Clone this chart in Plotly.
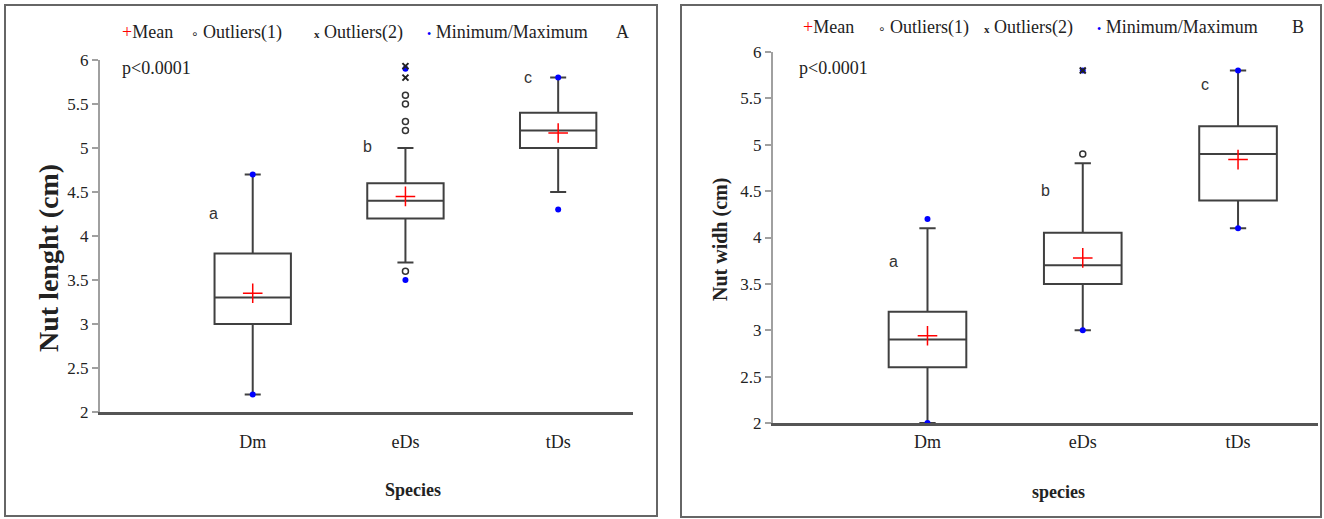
import plotly.graph_objects as go

# ---------------- data ----------------
species = ["Dm", "eDs", "tDs"]
letters_A = ["a", "b", "c"]
letters_B = ["a", "b", "c"]

# Panel A : Nut length (cm)
A_q1 = [3.0, 4.2, 5.0]
A_median = [3.3, 4.4, 5.2]
A_q3 = [3.8, 4.6, 5.4]
A_lower = [2.2, 3.7, 4.5]
A_upper = [4.7, 5.0, 5.8]
A_mean = [3.35, 4.45, 5.17]
A_min = [2.2, 3.5, 4.3]
A_max = [4.7, 5.9, 5.8]
A_out1_species = ["eDs", "eDs", "eDs", "eDs", "eDs"]
A_out1_values = [5.2, 5.3, 5.5, 5.6, 3.6]
A_out2_species = ["eDs", "eDs"]
A_out2_values = [5.8, 5.93]

# Panel B : Nut width (cm)
B_q1 = [2.6, 3.5, 4.4]
B_median = [2.9, 3.7, 4.9]
B_q3 = [3.2, 4.05, 5.2]
B_lower = [2.0, 3.0, 4.1]
B_upper = [4.1, 4.8, 5.8]
B_mean = [2.94, 3.78, 4.84]
B_min = [2.0, 3.0, 4.1]
B_max = [4.2, 5.8, 5.8]
B_out1_species = ["eDs"]
B_out1_values = [4.9]
B_out2_species = ["eDs"]
B_out2_values = [5.8]

yticks = [2, 2.5, 3, 3.5, 4, 4.5, 5, 5.5, 6]

# ---------------- helpers ----------------
W, H = 1324, 519
pos = {s: i for i, s in enumerate(species)}
xpos = [pos[s] for s in species]
SERIF = "Liberation Serif"
SANS = "Liberation Sans"
BOXCOL = "#404040"


def px(x):
    return x / W


def py(y):
    return 1 - y / H


fig = go.Figure()


def add_panel(xa, ya, q1, med, q3, lo, up, mean, mn, mx, o1s, o1v, o2s, o2v):
    fig.add_trace(go.Box(
        x=xpos, q1=q1, median=med, q3=q3, lowerfence=lo, upperfence=up,
        width=0.5, whiskerwidth=0.21, boxpoints=False,
        fillcolor="white", line=dict(color=BOXCOL, width=2),
        xaxis=xa, yaxis=ya, showlegend=False, hoverinfo="skip"))
    fig.add_trace(go.Scatter(
        x=xpos, y=mean, mode="markers", xaxis=xa, yaxis=ya, showlegend=False,
        marker=dict(symbol="cross-thin", size=14, line=dict(color="red", width=1.5)),
        cliponaxis=False))
    fig.add_trace(go.Scatter(
        x=[pos[s] for s in o1s], y=o1v, mode="markers", xaxis=xa, yaxis=ya,
        showlegend=False, cliponaxis=False,
        marker=dict(symbol="circle-open", size=6, color="#333",
                    line=dict(color="#333", width=1.5))))
    fig.add_trace(go.Scatter(
        x=xpos * 2, y=mn + mx, mode="markers", xaxis=xa, yaxis=ya,
        showlegend=False, cliponaxis=False,
        marker=dict(symbol="circle", size=6, color="#0000ff")))
    fig.add_trace(go.Scatter(
        x=[pos[s] for s in o2s], y=o2v, mode="markers", xaxis=xa, yaxis=ya,
        showlegend=False, cliponaxis=False,
        marker=dict(symbol="x-thin", size=6, line=dict(color="#222", width=2))))


add_panel("x", "y", A_q1, A_median, A_q3, A_lower, A_upper, A_mean, A_min, A_max,
          A_out1_species, A_out1_values, A_out2_species, A_out2_values)
add_panel("x2", "y2", B_q1, B_median, B_q3, B_lower, B_upper, B_mean, B_min, B_max,
          B_out1_species, B_out1_values, B_out2_species, B_out2_values)

yaxis_common = dict(
    range=[2, 6], tickvals=yticks, showgrid=False, zeroline=False, automargin=False,
    showline=True, linecolor="#a0a0a0", linewidth=2,
    ticks="outside", ticklen=6, tickwidth=1.5, tickcolor="#a0a0a0",
    tickfont=dict(family=SERIF, size=17, color="#222"))
xaxis_common = dict(
    tickvals=xpos, ticktext=species, showgrid=False, zeroline=False, automargin=False,
    showline=True, linecolor="#555", linewidth=3, ticks="",
    tickfont=dict(family=SERIF, size=18, color="#222"))

fig.update_layout(
    width=W, height=H,
    margin=dict(l=0, r=0, t=0, b=0, pad=0, autoexpand=False),
    paper_bgcolor="white", plot_bgcolor="white", showlegend=False,
    xaxis=dict(domain=[px(100), px(633)], range=[-1.0, 2.49], anchor="y",
               ticklabelstandoff=11, **xaxis_common),
    yaxis=dict(domain=[py(412), py(60)], anchor="x", **yaxis_common),
    xaxis2=dict(domain=[px(773), px(1318)], range=[-0.995, 2.515], anchor="y2",
                ticklabelstandoff=0, **xaxis_common),
    yaxis2=dict(domain=[py(423), py(52)], anchor="x2", **yaxis_common),
)

ann = []


def txt(x, y, text, size=18, family=SERIF, xanchor="left", **kw):
    ann.append(dict(x=px(x), y=py(y), xref="paper", yref="paper", text=text,
                    showarrow=False, xanchor=xanchor, yanchor="middle",
                    font=dict(family=family, size=size, color="#222"), **kw))


def legend_row(y, xs, label_end):
    x_mean, x_o1, x_o2, x_mm, x_lab = xs
    txt(x_mean, y, "<span style='color:#ff0000'>+</span>Mean")
    txt(x_o1, y, "<span style='font-family:DejaVu Sans;font-size:12px;color:#222'>∘</span> Outliers(1)")
    txt(x_o2, y, "<span style='font-size:11px;color:#222'><b>x</b></span> Outliers(2)")
    txt(x_mm, y, "<span style='color:#0000ff;font-size:12px'>•</span> Minimum/Maximum")
    txt(x_lab, y, label_end, xanchor="center")


legend_row(32, (120, 189, 312, 425, 622), "A")
legend_row(27, (801, 876, 982, 1095, 1298), "B")

# p-values
txt(120, 68, "p<0.0001")
txt(797, 68, "p<0.0001")

# significance letters (data coords)
for xa, ya, letters, offs, ys in [
        ("x", "y", letters_A, [-0.26, -0.25, -0.2], [4.25, 5.02, 5.8]),
        ("x2", "y2", letters_B, [-0.22, -0.24, -0.21], [3.74, 4.51, 5.65])]:
    for i, (l, o, yv) in enumerate(zip(letters, offs, ys)):
        ann.append(dict(x=i + o, y=yv, xref=xa, yref=ya, text=l, showarrow=False,
                        font=dict(family=SANS, size=16, color="#333")))

# axis titles
ann.append(dict(x=px(48), y=py(258), xref="paper", yref="paper", text="<b>Nut lenght (cm)</b>",
                textangle=-90, showarrow=False, xanchor="center", yanchor="middle",
                font=dict(family=SERIF, size=28, color="#222")))
ann.append(dict(x=px(720), y=py(240), xref="paper", yref="paper", text="<b>Nut widh (cm)</b>",
                textangle=-90, showarrow=False, xanchor="center", yanchor="middle",
                font=dict(family=SERIF, size=20, color="#222")))
txt(413, 490, "<b>Species</b>", size=18, xanchor="center")
txt(1058, 492, "<b>species</b>", size=18, xanchor="center")

fig.update_layout(annotations=ann)

# panel frames
fig.update_layout(shapes=[
    dict(type="rect", xref="paper", yref="paper", x0=px(5), x1=px(657), y0=py(516), y1=py(5),
         line=dict(color="#666", width=2)),
    dict(type="rect", xref="paper", yref="paper", x0=px(681), x1=px(1321), y0=py(517), y1=py(5),
         line=dict(color="#666", width=2)),
])

fig.write_html(
    "out.html",
    config={"displayModeBar": False},
    post_script="document.body.style.margin='0px';document.body.style.overflow='hidden';",
)
